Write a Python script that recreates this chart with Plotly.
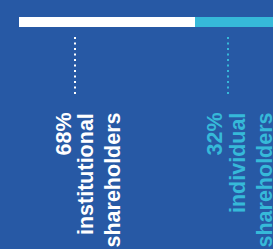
import plotly.graph_objects as go

categories = ["institutional shareholders", "individual shareholders"]
shares = [68, 32]
pct_labels = ["68%", "32%"]
label_line1 = ["institutional", "individual"]
label_line2 = ["shareholders", "shareholders"]
colors = ["#ffffff", "#36b9d9"]
BG = "#2759a5"

W, H = 273, 249
bar_left_px = 19
bar_right_px = 195
k = (bar_right_px - bar_left_px) / shares[0]  # px per unit

fig = go.Figure()
for cat, v, c in zip(categories, shares, colors):
    fig.add_trace(go.Bar(
        x=[v], y=[0], orientation="h", name=cat, width=1,
        marker=dict(color=c, line=dict(width=0)),
        hoverinfo="skip", showlegend=False,
    ))

font_family = "Liberation Sans, Arial, sans-serif"
fsize = 21.5

dot_x_px = [75, 228]
line_centers_px = [[63, 86, 112], [214, 238, 264]]
top_text_px = 112

annotations = []
shapes = []
for i in range(len(shares)):
    xp = dot_x_px[i] / W
    shapes.append(dict(
        type="line", xref="paper", yref="paper",
        x0=xp, x1=xp, y0=1 - 37 / H, y1=1 - 97 / H,
        line=dict(color=colors[i], width=2, dash="2px,3.5px"),
    ))
    for txt, cx in zip([pct_labels[i], label_line1[i], label_line2[i]], line_centers_px[i]):
        annotations.append(dict(
            text=txt, xref="paper", yref="paper",
            x=cx / W, y=1 - top_text_px / H,
            xanchor="center", yanchor="top",
            textangle=-90, showarrow=False, borderpad=0,
            font=dict(family=font_family, size=fsize, color=colors[i], weight="bold"),
        ))

fig.update_layout(
    width=W, height=H,
    margin=dict(l=0, r=0, t=0, b=0),
    paper_bgcolor=BG, plot_bgcolor=BG,
    barmode="stack", bargap=0,
    xaxis=dict(range=[-bar_left_px / k, (W - bar_left_px) / k], visible=False, fixedrange=True),
    yaxis=dict(range=[2.2 - H / 10, 2.2], visible=False, fixedrange=True),
    shapes=shapes, annotations=annotations,
    showlegend=False,
)

fig.write_html(
    "out.html",
    config={"displayModeBar": False},
    post_script="document.body.style.margin='0';document.body.style.overflow='hidden';",
)
